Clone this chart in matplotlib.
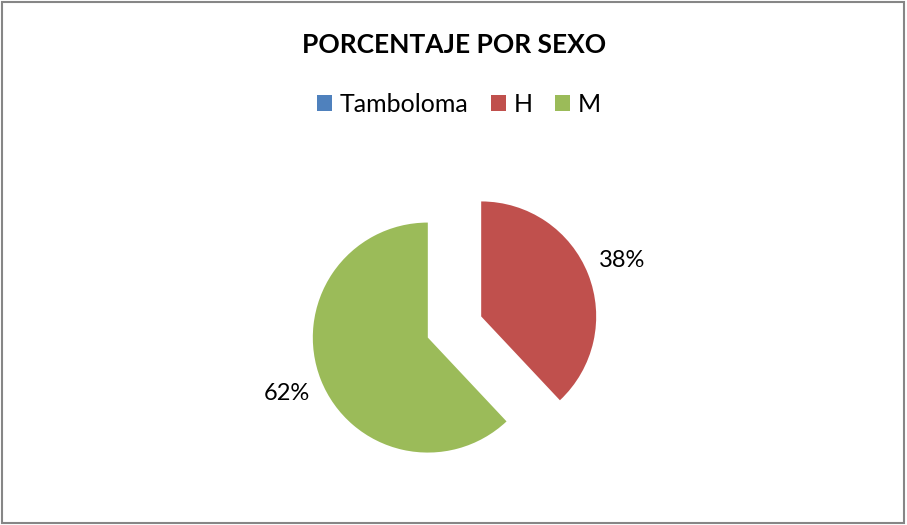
import matplotlib
matplotlib.use("Agg")
import matplotlib.pyplot as plt
from matplotlib.patches import Rectangle, Patch

plt.rcParams['font.family'] = ['Lato', 'DejaVu Sans']

# data
categorias = ['Tamboloma', 'H', 'M']
valores = [0, 38, 62]
colores = ['#4F81BD', '#C0504D', '#9BBB59']
titulo = 'PORCENTAJE POR SEXO'

W, H = 907, 525
fig = plt.figure(figsize=(W / 100, H / 100), dpi=100)
ax = fig.add_axes([0, 0, 1, 1])

def etiqueta(p):
    return '' if p < 0.5 else '%d%%' % round(p)

# explode is in data units (pixels here)
wedges, textos, autos = ax.pie(valores, colors=colores, startangle=90, counterclock=False,
                               explode=[0, 28.7, 28.7], center=(454.5, H - 327), radius=115,
                               autopct=etiqueta, pctdistance=1.32,
                               wedgeprops=dict(linewidth=0))
for t in autos:
    t.set_fontsize(17)
    t.set_color('black')

ax.set_xlim(0, W)
ax.set_ylim(0, H)
ax.set_aspect('equal')
ax.axis('off')

fig.text(454 / W, 1 - 45 / H, titulo, ha='center', va='center',
         fontsize=19, fontweight='bold')

handles = [Patch(facecolor=c, edgecolor='none') for c in colores]
fig.legend(handles, categorias, loc='center', bbox_to_anchor=(459 / W, 1 - 104 / H), ncol=3,
           frameon=False, fontsize=18, handlelength=0.6, handleheight=0.6,
           handletextpad=0.3, columnspacing=0.9)

fig.patches.append(Rectangle((2 / W, 2 / H), (W - 5) / W, (H - 4) / H, transform=fig.transFigure,
                             fill=False, edgecolor='#868686', linewidth=1.5))

fig.savefig('out.png', dpi=100)
